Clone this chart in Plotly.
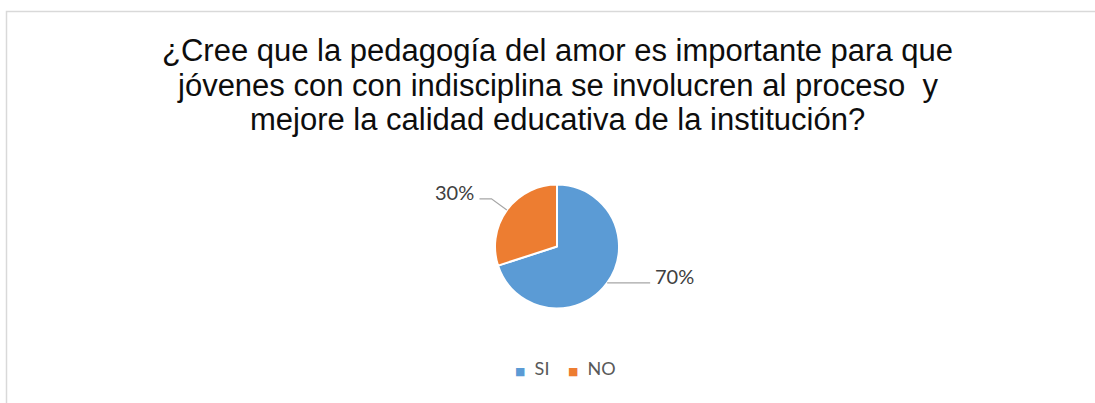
import math
import plotly.graph_objects as go

# ---- data ----
categories = ["SI", "NO"]
values = [70, 30]
colors = ["#5B9BD5", "#ED7D31"]
title_lines = [
    "¿Cree que la pedagogía del amor es importante para que",
    "jóvenes con con indisciplina se involucren al proceso  y",
    "mejore la calidad educativa de la institución?",
]

# ---- layout constants (pixels) ----
W, H = 1095, 403
cx, cy, r = 557, 246.5, 62
# per-slice leader styling: radial extension and horizontal run (px)
leader_ext = [0, 19]
leader_run = [43, 12]


def px(x):
    return x / W


def py(y):
    return 1 - y / H


fig = go.Figure()
fig.add_trace(go.Pie(
    labels=categories,
    values=values,
    sort=False,
    direction="clockwise",
    rotation=0,
    marker=dict(colors=colors, line=dict(color="white", width=2)),
    textinfo="none",
    hoverinfo="label+percent",
    showlegend=False,
    domain=dict(x=[px(cx - r), px(cx + r)], y=[py(cy + r), py(cy - r)]),
))

total = sum(values)
cum = 0
shapes = []
annotations = []
for i, v in enumerate(values):
    mid = (cum + v / 2) / total * 2 * math.pi
    cum += v
    dx, dy = math.sin(mid), -math.cos(mid)
    p0 = (cx + r * dx, cy + r * dy)
    p1 = (p0[0] + leader_ext[i] * dx, p0[1] + leader_ext[i] * dy)
    sgn = 1 if dx >= 0 else -1
    p2 = (p1[0] + sgn * leader_run[i], p1[1])
    path = "M {} {} L {} {} L {} {}".format(px(p0[0]), py(p0[1]), px(p1[0]), py(p1[1]), px(p2[0]), py(p2[1]))
    shapes.append(dict(type="path", xref="paper", yref="paper", path=path,
                       line=dict(color="#A6A6A6", width=1.2)))
    annotations.append(dict(
        x=px(p2[0] + sgn * 4), y=py(p2[1] - 6.5), xref="paper", yref="paper",
        text=f"{round(v / total * 100)}%", showarrow=False,
        xanchor="left" if sgn > 0 else "right", yanchor="middle",
        borderpad=0,
        font=dict(family="Lato, Open Sans, sans-serif", size=20, color="#404040"),
    ))

# chart border
shapes.append(dict(type="rect", xref="paper", yref="paper",
                   x0=px(6.5), y0=py(H + 5), x1=px(W + 5), y1=py(11.5),
                   line=dict(color="#D9D9D9", width=1.5)))

# title, one annotation per line
title_y = [50, 85, 120]
for line, ty in zip(title_lines, title_y):
    annotations.append(dict(
        x=px(557), y=py(ty), xref="paper", yref="paper",
        text=line, showarrow=False, xanchor="center", yanchor="middle",
        font=dict(family="Liberation Sans, Arial, sans-serif", size=31, color="#0d0d0d"),
    ))

# legend
sq = '<span style="font-family:DejaVu Sans;font-size:11px;color:{}">■</span>'
legend_text = "  ".join(
    [sq.format(c) + "  " + name + "  " for c, name in zip(colors, categories)]
).rstrip()
annotations.append(dict(
    x=px(565), y=py(368), xref="paper", yref="paper",
    text=legend_text, showarrow=False, xanchor="center", yanchor="middle",
    font=dict(family="Lato, Open Sans, sans-serif", size=18, color="#595959"),
))

fig.update_layout(
    width=W, height=H, autosize=False,
    margin=dict(l=0, r=0, t=0, b=0),
    paper_bgcolor="white", plot_bgcolor="white",
    shapes=shapes, annotations=annotations,
    showlegend=False,
)

fig.write_html("out.html", config={"displayModeBar": False},
               post_script="document.body.style.margin='0';")
